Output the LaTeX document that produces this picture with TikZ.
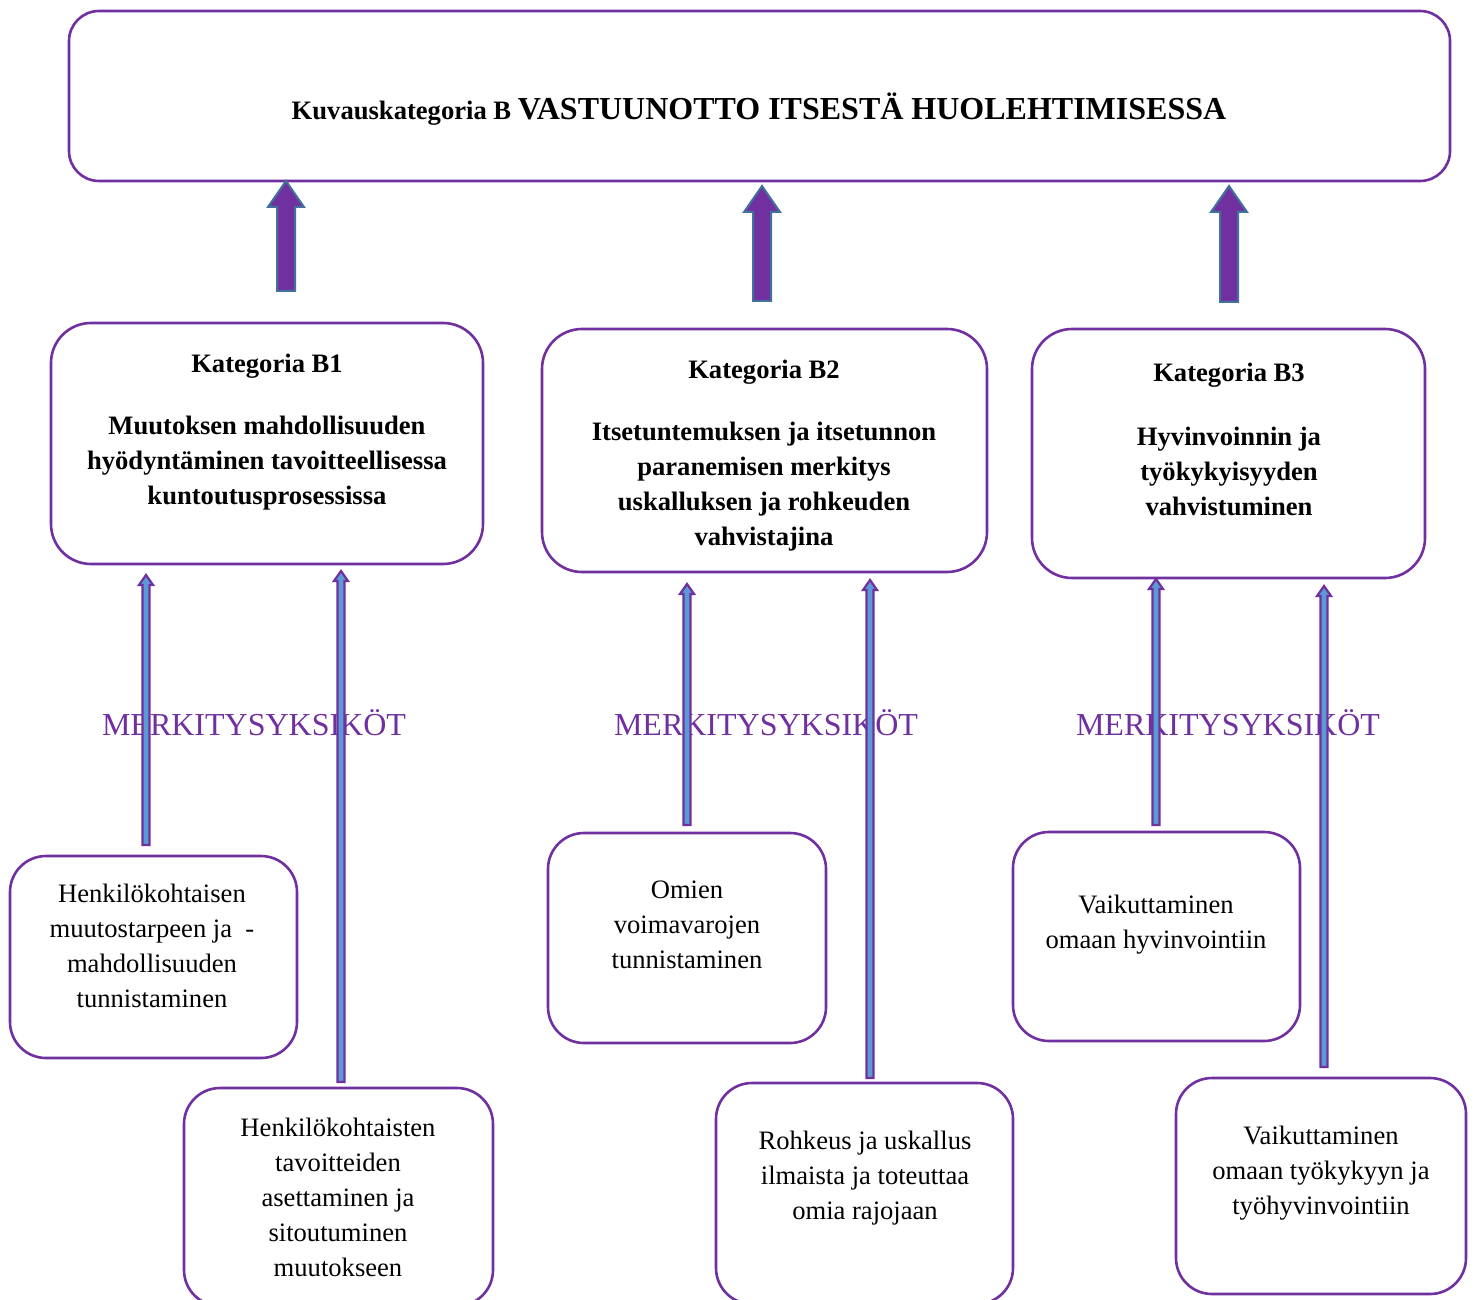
\documentclass[tikz,border=0pt]{standalone}
\usepackage{fontspec}
\setmainfont{Liberation Serif}
\usetikzlibrary{calc,fit}

\definecolor{vio}{HTML}{7030A0}
\definecolor{edgeblue}{HTML}{41719C}
\definecolor{fillblue}{HTML}{5B9BD5}

\tikzset{
  panel/.style={draw=vio, line width=1.3pt, fill=white, inner sep=0pt},
  mainbox/.style={panel, rounded corners=15pt},
  catbox/.style={panel, rounded corners=20pt},
  unitbox/.style={panel, rounded corners=18pt},
  bigarrow/.style={fill=vio, draw=edgeblue, line width=1pt, line join=miter},
  thinarrow/.style={fill=fillblue, draw=vio, line width=1.1pt, line join=miter},
  bodytext/.style={inner sep=0pt, align=center, font=\fontsize{13.3}{17.5}\selectfont},
  cattext/.style={bodytext, font=\fontsize{13.3}{17.5}\selectfont\bfseries},
  unitlabel/.style={inner sep=0pt, text=vio, font=\fontsize{16}{19}\selectfont}
}

% vertical block arrow: style, base, tip, half shaft, half head, head length
\newcommand\uparrowshape[6]{%
  \draw[#1] ($(#2)+(-#4,0)$) -- ($(#3)+(-#4,#6)$) -- ($(#3)+(-#5,#6)$) -- (#3)
    -- ($(#3)+(#5,#6)$) -- ($(#3)+(#4,#6)$) -- ($(#2)+(#4,0)$) -- cycle;}

\begin{document}
\begin{tikzpicture}[x=0.5pt,y=-0.5pt]
\useasboundingbox (0,0) rectangle (1475,1299);

% main category
\node[mainbox, fit={(69,11) (1450,181)}] (top) {};
\node[inner sep=0pt] (toptext) at (759,109)
  {\fontsize{13.3}{16}\selectfont\bfseries Kuvauskategoria B
   \fontsize{16}{19}\selectfont VASTUUNOTTO ITSESTÄ HUOLEHTIMISESSA};

% sub-categories
\node[catbox, fit={(51,323) (483,564)}] (b1) {};
\node[catbox, fit={(542,329) (987,572)}] (b2) {};
\node[catbox, fit={(1032,329) (1425,578)}] (b3) {};

\node[cattext] (b1h) at (267,366) {Kategoria B1};
\node[cattext] (b1t) at (267,463) {Muutoksen mahdollisuuden\\hyödyntäminen tavoitteellisessa\\kuntoutusprosessissa};
\node[cattext] (b2h) at (764,372) {Kategoria B2};
\node[cattext] (b2t) at (764,487) {Itsetuntemuksen ja itsetunnon\\paranemisen merkitys\\uskalluksen ja rohkeuden\\vahvistajina};
\node[cattext] (b3h) at (1229,375) {Kategoria B3};
\node[cattext] (b3t) at (1229,471) {Hyvinvoinnin ja\\työkykyisyyden\\vahvistuminen};

% block arrows to the main category
\coordinate (a1s) at (286,291); \coordinate (a1t) at (286,181);
\coordinate (a2s) at (762,301); \coordinate (a2t) at (762,186);
\coordinate (a3s) at (1229,302); \coordinate (a3t) at (1229,186);
\uparrowshape{bigarrow}{a1s}{a1t}{9}{18}{26}
\uparrowshape{bigarrow}{a2s}{a2t}{9}{18}{26}
\uparrowshape{bigarrow}{a3s}{a3t}{9}{18}{26}

% meaning units labels
\node[unitlabel] (m1) at (254,723) {MERKITYSYKSIKÖT};
\node[unitlabel] (m2) at (766,723) {MERKITYSYKSIKÖT};
\node[unitlabel] (m3) at (1228,723) {MERKITYSYKSIKÖT};

% meaning units
\node[unitbox, fit={(10,856) (297,1058)}] (u1) {};
\node[unitbox, fit={(184,1088) (493,1306)}] (u2) {};
\node[unitbox, fit={(548,833) (826,1043)}] (u3) {};
\node[unitbox, fit={(716,1083) (1013,1304)}] (u4) {};
\node[unitbox, fit={(1013,832) (1300,1041)}] (u5) {};
\node[unitbox, fit={(1176,1078) (1466,1294)}] (u6) {};

\node[bodytext] (u1t) at (152,946) {Henkilökohtaisen\\muutostarpeen ja\ \ -\\mahdollisuuden\\tunnistaminen};
\node[bodytext] (u2t) at (338,1197.5) {Henkilökohtaisten\\tavoitteiden\\asettaminen ja\\sitoutuminen\\muutokseen};
\node[bodytext] (u3t) at (687,924.5) {Omien\\voimavarojen\\tunnistaminen};
\node[bodytext] (u4t) at (865,1178) {Rohkeus ja uskallus\\ilmaista ja toteuttaa\\omia rajojaan};
\node[bodytext] (u5t) at (1156,925) {Vaikuttaminen\\omaan hyvinvointiin};
\node[bodytext] (u6t) at (1321,1173.5) {Vaikuttaminen\\omaan työkykyyn ja\\työhyvinvointiin};

% thin arrows from meaning units to sub-categories
\coordinate (t1s) at (146,845);  \coordinate (t1t) at (146,575);
\coordinate (t2s) at (341,1082); \coordinate (t2t) at (341,571);
\coordinate (t3s) at (687,825);  \coordinate (t3t) at (687,584);
\coordinate (t4s) at (870,1078); \coordinate (t4t) at (870,580);
\coordinate (t5s) at (1156,825); \coordinate (t5t) at (1156,579);
\coordinate (t6s) at (1324,1067);\coordinate (t6t) at (1324,586);
\foreach \k in {1,...,6}{\uparrowshape{thinarrow}{t\k s}{t\k t}{3.5}{7}{10}}
\end{tikzpicture}
\end{document}
